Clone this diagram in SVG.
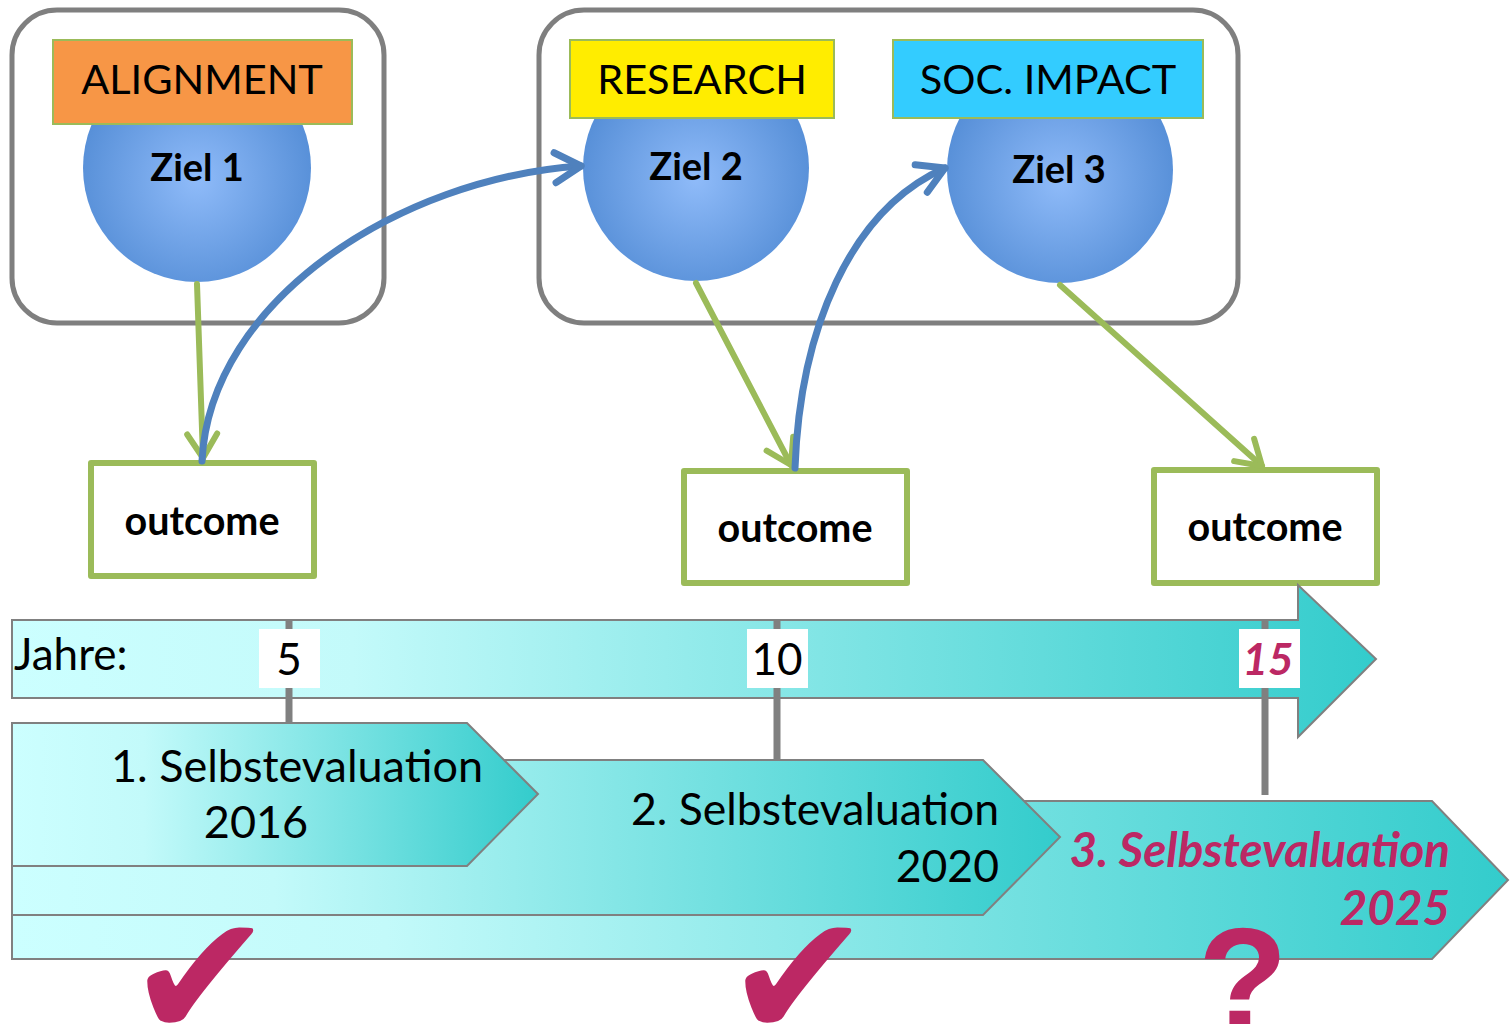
<svg xmlns="http://www.w3.org/2000/svg" width="1510" height="1024" viewBox="0 0 1510 1024">
<style>
text{font-family:Lato,"Liberation Sans",sans-serif;fill:#000}
.grp{fill:#fff;stroke:#7f7f7f;stroke-width:5}
.lbl{stroke:#9bbb59;stroke-width:2}
.lt{font-size:41.5px;text-anchor:middle}
.ziel{fill:url(#ball)}
.zt{font-size:38px;font-weight:bold;text-anchor:middle}
.out{fill:#fff;stroke:#9bbb59;stroke-width:6;stroke-linejoin:round}
.ot{font-size:39.5px;font-weight:bold;text-anchor:middle}
.green{fill:none;stroke:#9bbb59;stroke-width:6;stroke-linecap:round}
.blue{fill:none;stroke:#4f81bd;stroke-width:7;stroke-linecap:round}
.tl{stroke:#808080;stroke-width:2}
.tick{stroke:#808080;stroke-width:7}
.yr{font-size:44px;text-anchor:middle}
.ev{font-size:45px}
.mag{fill:#bc2864;font-weight:bold;font-style:italic}
.chk{font-family:"DejaVu Sans",sans-serif;font-size:175px;fill:#bc2864}
</style>
<defs>
<radialGradient id="ball" cx="50%" cy="55%" r="55%">
<stop offset="0" stop-color="#8fbbf9"/>
<stop offset="1" stop-color="#548dd6"/>
</radialGradient>
<linearGradient id="teal" x1="0" y1="0" x2="1" y2="0">
<stop offset="0" stop-color="#ccffff"/>
<stop offset="0.25" stop-color="#c3fafa"/>
<stop offset="1" stop-color="#33cccc"/>
</linearGradient>
<marker id="ga" markerUnits="userSpaceOnUse" markerWidth="60" markerHeight="60" viewBox="-40 -30 60 60" refX="0" refY="0" orient="auto">
<path d="M-24,-15 L0,0 L-24,15" fill="none" stroke="#9bbb59" stroke-width="6" stroke-linecap="round" stroke-linejoin="round"/>
</marker>
<marker id="ba" markerUnits="userSpaceOnUse" markerWidth="60" markerHeight="60" viewBox="-40 -30 60 60" refX="0" refY="0" orient="auto">
<path d="M-26,-15 L0,0 L-26,15" fill="none" stroke="#4f81bd" stroke-width="7" stroke-linecap="round" stroke-linejoin="round"/>
</marker>
</defs>
<rect width="1510" height="1024" fill="#fff"/>

<g id="group1"><rect class="grp" x="12" y="10" width="372" height="313" rx="45"/></g>
<g id="group2"><rect class="grp" x="539" y="10" width="699" height="313" rx="45"/></g>

<g id="ziel1">
<circle class="ziel" cx="197" cy="168" r="114"/>
<rect class="lbl" x="53" y="40" width="299" height="84" fill="#f79646"/>
<text class="lt" x="202" y="94">ALIGNMENT</text>
<text class="zt" x="197" y="181">Ziel 1</text>
</g>
<g id="ziel2">
<circle class="ziel" cx="696" cy="168" r="113"/>
<rect class="lbl" x="570" y="40" width="264" height="78" fill="#ffed00"/>
<text class="lt" x="702" y="94">RESEARCH</text>
<text class="zt" x="696" y="180">Ziel 2</text>
</g>
<g id="ziel3">
<circle class="ziel" cx="1060" cy="170" r="113"/>
<rect class="lbl" x="893" y="40" width="310" height="78" fill="#33ccff"/>
<text class="lt" x="1048" y="94">SOC. IMPACT</text>
<text class="zt" x="1059" y="183">Ziel 3</text>
</g>

<g id="outcome1"><rect class="out" x="91" y="463" width="223" height="113"/><text class="ot" x="202" y="535">outcome</text></g>
<g id="outcome2"><rect class="out" x="684" y="471" width="223" height="112"/><text class="ot" x="795" y="542">outcome</text></g>
<g id="outcome3"><rect class="out" x="1154" y="470" width="223" height="113"/><text class="ot" x="1265" y="541">outcome</text></g>

<g id="connectors">
<path class="green" d="M197,284 L203,458" marker-end="url(#ga)"/>
<path class="green" d="M696,283 L791,465" marker-end="url(#ga)"/>
<path class="green" d="M1060,285 L1262,466" marker-end="url(#ga)"/>
<path class="blue" d="M202,461 C210,300 400,178 581,166" marker-end="url(#ba)"/>
<path class="blue" d="M795,468 C800,330 850,210 945,168" marker-end="url(#ba)"/>
</g>

<g id="timeline">
<path class="tl" d="M12,620 H1298 V585 L1376,659 L1298,737 V698 H12 Z" fill="url(#teal)"/>
<text x="14" y="670" style="font-size:44px">Jahre:</text>
<line class="tick" x1="289" y1="620" x2="289" y2="722"/>
<line class="tick" x1="777" y1="620" x2="777" y2="760"/>
<line class="tick" x1="1265" y1="620" x2="1265" y2="795"/>
<rect x="259" y="629" width="61" height="59" fill="#fff"/>
<rect x="747" y="629" width="61" height="59" fill="#fff"/>
<rect x="1239" y="629" width="61" height="59" fill="#fff"/>
<text class="yr" x="289" y="675">5</text>
<text class="yr" x="777" y="675">10</text>
<text class="yr mag" x="1268" y="675">15</text>
</g>

<g id="eval3">
<path class="tl" d="M12,801 H1432 L1508,880 L1432,959 H12 Z" fill="url(#teal)"/>
<text class="mag" x="1450" y="867" text-anchor="end" style="font-size:47.5px">3. Selbstevaluation</text>
<text class="mag" x="1450" y="925" text-anchor="end" style="font-size:47.5px">2025</text>
</g>
<g id="eval2">
<path class="tl" d="M12,760 H983 L1060,837 L983,915 H12 Z" fill="url(#teal)"/>
<text x="999" y="825" text-anchor="end" style="font-size:44.5px">2. Selbstevaluation</text>
<text x="999" y="882" text-anchor="end" style="font-size:44.5px">2020</text>
</g>
<g id="eval1">
<path class="tl" d="M12,723 H467 L538,794 L467,866 H12 Z" fill="url(#teal)"/>
<text class="ev" x="297" y="782" text-anchor="middle">1. Selbstevaluation</text>
<text class="ev" x="256" y="838" text-anchor="middle">2016</text>
</g>

<g id="marks">
<text class="chk" x="127" y="1038">✔</text>
<text class="chk" x="725" y="1038">✔</text>
<text x="1243" y="1030" text-anchor="middle" style="font-family:'Liberation Sans',sans-serif;font-size:147px;font-weight:bold;fill:#bc2864">?</text>
</g>
</svg>
